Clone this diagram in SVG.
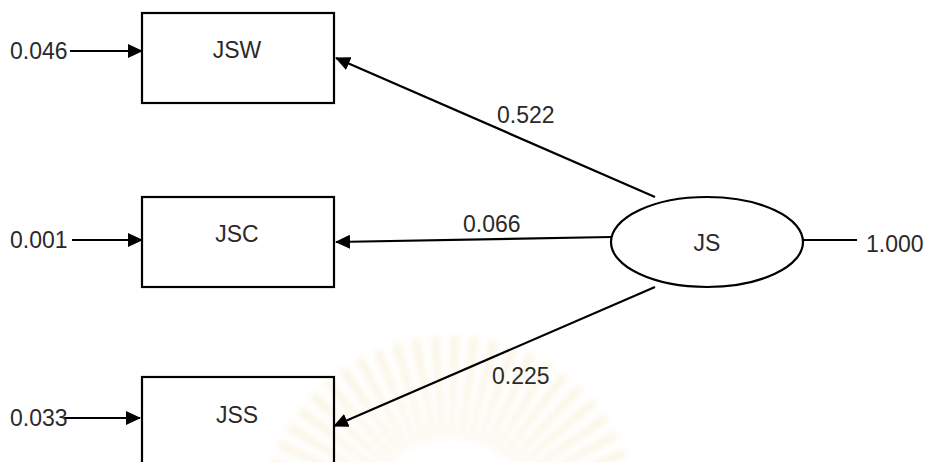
<svg xmlns="http://www.w3.org/2000/svg" width="926" height="462" viewBox="0 0 926 462">
  <defs>
    <style>
      .box { fill: none; stroke: #000; stroke-width: 2.2; }
      .ell { fill: #fff; stroke: #000; stroke-width: 2.2; }
      .edge { fill: none; stroke: #000; stroke-width: 2.2; }
      .lbl { font-family: "Liberation Sans", Arial, sans-serif; font-size: 23px; fill: #2a2a2a; }
      .mid { text-anchor: middle; }
    </style>
    <marker id="arrow" markerUnits="userSpaceOnUse" markerWidth="15" markerHeight="14" refX="14" refY="7" orient="auto">
      <path d="M0,0 L15,7 L0,14 Z" fill="#000"/>
    </marker>
    <filter id="soft" x="-20%" y="-20%" width="140%" height="140%">
      <feGaussianBlur stdDeviation="3"/>
    </filter>
  </defs>

  <rect width="926" height="462" fill="#fff"/>

  <!-- faint background emblem -->
  <g id="emblem" filter="url(#soft)" opacity="0.28">
    <circle cx="450" cy="525" r="137" fill="none" stroke="#eed9a0" stroke-width="105" stroke-dasharray="6 8.35"/>
    <circle cx="450" cy="525" r="86" fill="#fff"/>
  </g>

  <!-- connectors -->
  <g id="connectors">
    <line class="edge" x1="70" y1="51" x2="142" y2="51" marker-end="url(#arrow)"/>
    <line class="edge" x1="72" y1="240" x2="142" y2="240" marker-end="url(#arrow)"/>
    <line class="edge" x1="64" y1="418" x2="140" y2="418" marker-end="url(#arrow)"/>
    <line class="edge" x1="655" y1="197" x2="336" y2="58" marker-end="url(#arrow)"/>
    <line class="edge" x1="611" y1="237" x2="336" y2="242" marker-end="url(#arrow)"/>
    <line class="edge" x1="655" y1="287" x2="334" y2="426" marker-end="url(#arrow)"/>
    <line class="edge" x1="803" y1="240" x2="857" y2="240"/>
  </g>

  <g id="JSW">
    <rect class="box" x="142" y="13" width="192" height="90"/>
    <text class="lbl mid" x="237" y="58">JSW</text>
  </g>
  <g id="JSC">
    <rect class="box" x="142" y="197" width="192" height="90"/>
    <text class="lbl mid" x="237" y="242">JSC</text>
  </g>
  <g id="JSS">
    <rect class="box" x="142" y="377" width="192" height="100"/>
    <text class="lbl mid" x="237" y="423">JSS</text>
  </g>
  <g id="JS">
    <ellipse class="ell" cx="707" cy="242" rx="96" ry="45"/>
    <text class="lbl mid" x="707" y="251">JS</text>
  </g>

  <!-- coefficients -->
  <g id="labels">
    <text class="lbl" x="10" y="59">0.046</text>
    <text class="lbl" x="10" y="248">0.001</text>
    <text class="lbl" x="10" y="426">0.033</text>
    <text class="lbl" x="497" y="123">0.522</text>
    <text class="lbl" x="463" y="232">0.066</text>
    <text class="lbl" x="492" y="384">0.225</text>
    <text class="lbl" x="866" y="252">1.000</text>
  </g>
</svg>
